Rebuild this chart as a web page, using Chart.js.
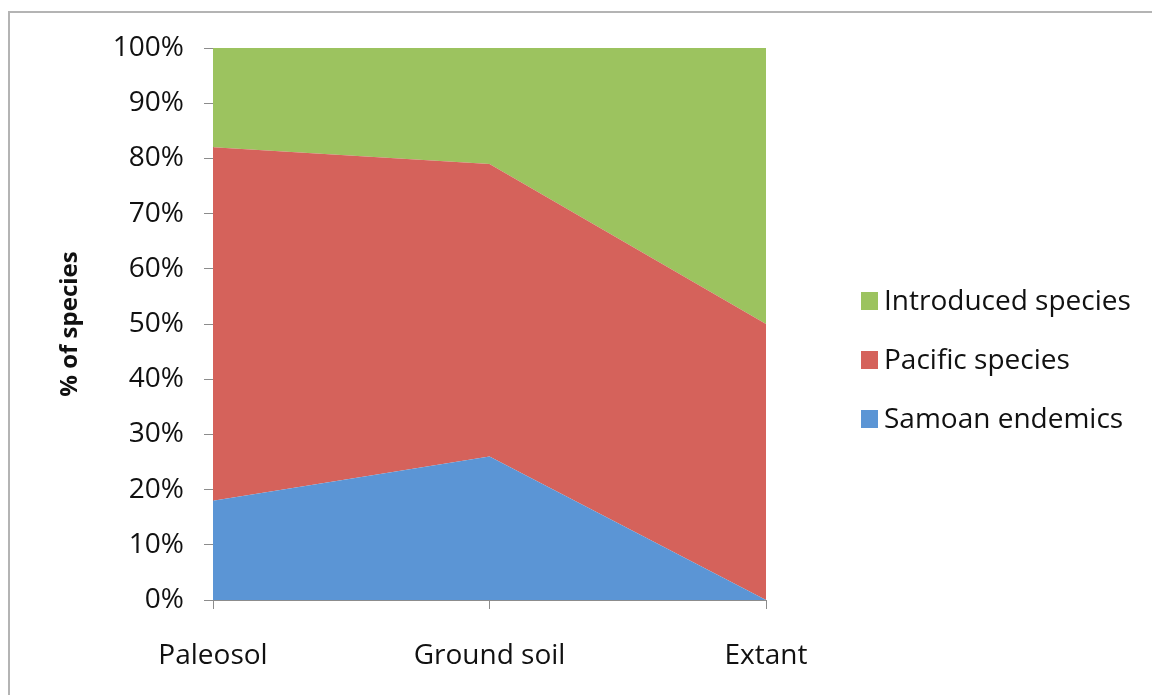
<!DOCTYPE html>
<html>
<head>
<meta charset="utf-8">
<script src="https://cdn.jsdelivr.net/npm/chart.js@4.4.1/dist/chart.umd.min.js"></script>
<style>
  html, body { margin: 0; padding: 0; background: #ffffff; }
  body { width: 1152px; height: 695px; position: relative; overflow: hidden; }
  #frame { position: absolute; left: 8px; top: 11px; width: 1160px; height: 700px;
           border: 2px solid #b4b4b4; box-sizing: border-box; }
  #wrap { position: absolute; left: 0; top: 0; width: 1152px; height: 695px; }
</style>
</head>
<body>
<div id="frame"></div>
<div id="wrap"><canvas id="c" width="1152" height="695"></canvas></div>
<script>
// Share of species by source
const categories = ['Paleosol', 'Ground soil', 'Extant'];
const samoanEndemics = [18, 26, 0];
const pacificSpecies = [64, 53, 50];
const introducedSpecies = [18, 21, 50];
const yTicks = [0, 10, 20, 30, 40, 50, 60, 70, 80, 90, 100];

const FONT = '"Open Sans", Lato, sans-serif';
const FONT_SIZE = 28;
const axisColor = '#8c8c8c';
const textColor = '#111111';

// Legend to the right of the plot, listed top-down from the last series
const sideLegend = {
  id: 'sideLegend',
  afterDraw(chart) {
    const c = chart.ctx;
    const area = chart.chartArea;
    const x = area.right + 95;
    const step = 59;
    const items = chart.data.datasets.slice().reverse();
    const y0 = 301;
    c.save();
    c.font = FONT_SIZE + 'px ' + FONT;
    c.textBaseline = 'middle';
    c.textAlign = 'left';
    items.forEach((ds, i) => {
      const y = y0 + i * step;
      c.fillStyle = ds.backgroundColor;
      c.fillRect(x, y - 9, 17, 18);
      c.fillStyle = textColor;
      c.fillText(ds.label, x + 23, y + 1);
    });
    c.restore();
  }
};

const ctx = document.getElementById('c').getContext('2d');
new Chart(ctx, {
  type: 'line',
  data: {
    labels: categories,
    datasets: [
      { label: 'Samoan endemics', data: samoanEndemics, backgroundColor: '#5b95d5',
        borderColor: '#5b95d5', fill: 'origin' },
      { label: 'Pacific species', data: pacificSpecies, backgroundColor: '#d5625b',
        borderColor: '#d5625b', fill: '-1' },
      { label: 'Introduced species', data: introducedSpecies, backgroundColor: '#9cc35f',
        borderColor: '#9cc35f', fill: '-1' }
    ]
  },
  plugins: [sideLegend],
  options: {
    responsive: false,
    animation: false,
    devicePixelRatio: 1,
    layout: { padding: { left: 10, top: 48, right: 386, bottom: 0 } },
    elements: {
      line: { tension: 0, borderWidth: 0 },
      point: { radius: 0, hoverRadius: 0 }
    },
    plugins: {
      tooltip: { enabled: false },
      legend: { display: false }
    },
    scales: {
      x: {
        offset: false,
        grid: { display: true, drawOnChartArea: false, drawTicks: true, tickLength: 9, color: axisColor },
        border: { display: true, color: axisColor, width: 1 },
        ticks: { color: textColor, font: { family: FONT, size: FONT_SIZE }, padding: 30, maxRotation: 0 },
        afterFit: (s) => { s.height = 95; }
      },
      y: {
        stacked: true,
        min: 0,
        max: 100,
        afterBuildTicks: (s) => { s.ticks = yTicks.map(v => ({ value: v })); },
        grid: { display: true, drawOnChartArea: false, drawTicks: true, tickLength: 9, color: axisColor },
        border: { display: true, color: axisColor, width: 1 },
        ticks: { color: textColor, font: { family: FONT, size: FONT_SIZE }, padding: 20,
                 callback: (v) => v + '%' },
        title: { display: true, text: '% of species', color: textColor,
                 font: { family: FONT, size: 24, weight: 'bold' }, padding: { top: 46, bottom: 0 } },
        afterFit: (s) => { s.width = 203; }
      }
    }
  }
});
</script>
</body>
</html>
